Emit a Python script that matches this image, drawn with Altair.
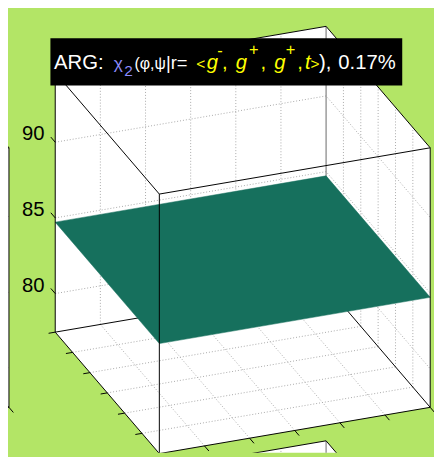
import altair as alt

# ---------------- data ----------------
PHI_TICKS = [-180, -120, -60, 0, 60, 120, 180]
PSI_TICKS = [-180, -120, -60, 0, 60, 120, 180]
Z_TICKS = [80, 85, 90]
Z_TICK_LABELS = ["80", "85", "90"]
Z_LIM = [77.45, 94.6]
PHI_LIM = [-180, 180]
PSI_LIM = [-180, 180]
# surface z(phi, psi) at the grid corners (nearly flat)
SURF_PHI = [-180, 180]
SURF_PSI = [-180, 180]
SURF_Z = [[84.72, 84.72], [84.72, 84.72]]

# title pieces: text, colour, italic, role
TITLE_TEXT = ["ARG:", "χ", "2", "(φ,ψ", "|r=", "<", "g", "-", ",", "g", "+", ",", "g", "+", ",", "t", ">", "),", "0.17%"]
TITLE_COLOR = ["w", "b", "b", "w", "w", "y", "y", "y", "y", "y", "y", "y", "y", "y", "y", "y", "y", "w", "w"]
TITLE_ITALIC = [0, 0, 0, 0, 0, 0, 1, 0, 0, 1, 0, 0, 1, 0, 0, 1, 0, 0, 0]
TITLE_ROLE = ["n", "g", "sub", "gs", "m", "a", "n", "supm", "n", "n", "sup", "n", "n", "sup", "n", "n", "a", "n", "n"]

# ---------------- layout / style ----------------
SCALE = 0.982
ORIGIN = (157.0, 458.0)      # screen position of (phi=-180, psi=-180, z=zmin)
U = (281.0, -48.0)           # screen step for full phi range
V = (-108.0, -126.0)         # screen step for full psi range
WZ = -15.7                   # screen px per z unit
SHIFTS = {"main": (0, 0), "left": (-437, 0), "below": (0, 430)}
TICK_LEN = 7
TITLE_CX = [73.5, 114.5, 125, 147.5, 175, 200, 212, 220, 225, 242, 255, 265, 282, 293, 303, 311, 318.5, 329, 372.5]
BASE = {"n": 58.5, "g": 58.5, "gs": 58.5, "m": 58.5, "a": 58.5, "sub": 66.5, "sup": 44, "supm": 46}
SIZE = {"n": 21, "g": 18, "gs": 16.5, "m": 19, "a": 16, "sub": 16, "sup": 17, "supm": 17}
COLORS = {"w": "#ffffff", "b": "#8c8cff", "y": "#ffff00"}
BG = "#b3e566"
SURF_COLOR = "#16705d"
GRID_COLOR = "#a8a8a8"
FONT = "Liberation Sans"


def proj(phi, psi, z, shift=(0, 0)):
    a = (phi - PHI_LIM[0]) / (PHI_LIM[1] - PHI_LIM[0])
    b = (psi - PSI_LIM[0]) / (PSI_LIM[1] - PSI_LIM[0])
    x = ORIGIN[0] + a * U[0] + b * V[0] + shift[0]
    y = ORIGIN[1] + a * U[1] + b * V[1] + (z - Z_LIM[0]) * WZ + shift[1]
    return [x, y]


def feat_line(pts):
    return {"type": "Feature", "properties": {}, "geometry": {"type": "LineString", "coordinates": pts}}


def feat_poly(pts):
    return {"type": "Feature", "properties": {}, "geometry": {"type": "Polygon", "coordinates": [pts + [pts[0]]]}}


p0, p1 = PHI_LIM
s0, s1 = PSI_LIM
z0, z1 = Z_LIM

white, grid, back_black, back_gray, front, ticks = [], [], [], [], [], []
for key, sh in SHIFTS.items():
    P = lambda a, b, c: proj(a, b, c, sh)
    D, A, B, C = P(p0, s1, z1), P(p1, s1, z1), P(p1, s0, z1), P(p0, s0, z1)
    Dp, Ap, Bp, Cp = P(p0, s1, z0), P(p1, s1, z0), P(p1, s0, z0), P(p0, s0, z0)
    white.append(feat_poly([D, A, B, Bp, Cp, Dp]))
    # floor grid
    for ph in PHI_TICKS[1:-1]:
        grid.append(feat_line([P(ph, s0, z0), P(ph, s1, z0)]))
    for ps in PSI_TICKS[1:-1]:
        grid.append(feat_line([P(p0, ps, z0), P(p1, ps, z0)]))
    # back wall psi = max
    for ph in PHI_TICKS[1:-1]:
        grid.append(feat_line([P(ph, s1, z0), P(ph, s1, z1)]))
    # back wall phi = max
    for ps in PSI_TICKS[1:-1]:
        grid.append(feat_line([P(p1, ps, z0), P(p1, ps, z1)]))
    for zt in Z_TICKS:
        grid.append(feat_line([P(p0, s1, zt), P(p1, s1, zt), P(p1, s0, zt)]))
    back_black.append(feat_line([Dp, Ap, Bp]))
    back_gray.append(feat_line([A, Ap]))
    front += [feat_line([D, A, B, C, D]), feat_line([D, Dp, Cp, Bp, B]), feat_line([C, Cp])]
    # ticks
    du = ((U[0] ** 2 + U[1] ** 2) ** 0.5)
    dv = ((V[0] ** 2 + V[1] ** 2) ** 0.5)
    for ps in PSI_TICKS:
        q = P(p0, ps, z0)
        ticks.append(feat_line([q, [q[0] - U[0] / du * TICK_LEN, q[1] - U[1] / du * TICK_LEN]]))
    for ph in PHI_TICKS:
        q = P(ph, s0, z0)
        ticks.append(feat_line([q, [q[0] - V[0] / dv * TICK_LEN, q[1] - V[1] / dv * TICK_LEN]]))
    for zt in Z_TICKS:
        q = P(p0, s1, zt)
        ticks.append(feat_line([q, [q[0] + V[0] / dv * TICK_LEN, q[1] + V[1] / dv * TICK_LEN]]))

# surface (main plot only)
surf = []
for i in range(len(SURF_PHI) - 1):
    for j in range(len(SURF_PSI) - 1):
        pts = [proj(SURF_PHI[i], SURF_PSI[j], SURF_Z[i][j]),
               proj(SURF_PHI[i + 1], SURF_PSI[j], SURF_Z[i + 1][j]),
               proj(SURF_PHI[i + 1], SURF_PSI[j + 1], SURF_Z[i + 1][j + 1]),
               proj(SURF_PHI[i], SURF_PSI[j + 1], SURF_Z[i][j + 1])]
        surf.append(feat_poly(pts))

# z tick labels
zlab = []
for zt, lab in zip(Z_TICKS, Z_TICK_LABELS):
    q = proj(p0, s1, zt)
    zlab.append({"x": q[0] - 11, "y": q[1] - 2, "t": lab})

# title box
title_box = [feat_poly([[44, 27], [409, 27], [409, 76], [44, 76]])]


def geo(features, **mk):
    return alt.Chart(alt.Data(values=features)).mark_geoshape(clip=True, **mk)


layers = [
    geo(white, fill="#ffffff", stroke=None, strokeWidth=0),
    geo(grid, filled=False, stroke=GRID_COLOR, strokeWidth=1, strokeDash=[1, 2]),
    geo(back_black, filled=False, stroke="#000000", strokeWidth=1),
    geo(back_gray, filled=False, stroke="#808080", strokeWidth=1.2),
    geo(surf, fill=SURF_COLOR, stroke=SURF_COLOR, strokeWidth=0.5),
    geo(front, filled=False, stroke="#000000", strokeWidth=1),
    geo(ticks, filled=False, stroke="#000000", strokeWidth=1),
    alt.Chart(alt.Data(values=zlab)).mark_text(font=FONT, fontSize=21 * SCALE, align="right", baseline="alphabetic", color="#000000", clip=True).encode(
        longitude="x:Q", latitude="y:Q", text="t:N"),
    geo(title_box, fill="#000000", stroke=None, strokeWidth=0),
]
for t, c, it, r, cx in zip(TITLE_TEXT, TITLE_COLOR, TITLE_ITALIC, TITLE_ROLE, TITLE_CX):
    layers.append(
        alt.Chart(alt.Data(values=[{"x": cx, "y": BASE[r], "t": t}])).mark_text(
            font=FONT, fontStyle="italic" if it else "normal", fontSize=SIZE[r] * SCALE,
            color=COLORS[c], align="center", baseline="alphabetic").encode(
            longitude="x:Q", latitude="y:Q", text="t:N")
    )

chart = alt.layer(*layers).properties(
    width=434, height=449,
    projection=alt.Projection(type="identity", scale=SCALE, translate=[0, 0]),
    autosize=alt.AutoSizeParams(type="none"),
    padding=0,
    background=BG,
).configure_view(stroke=None)

chart.save("out.html", embed_options={"renderer": "svg", "actions": False})
